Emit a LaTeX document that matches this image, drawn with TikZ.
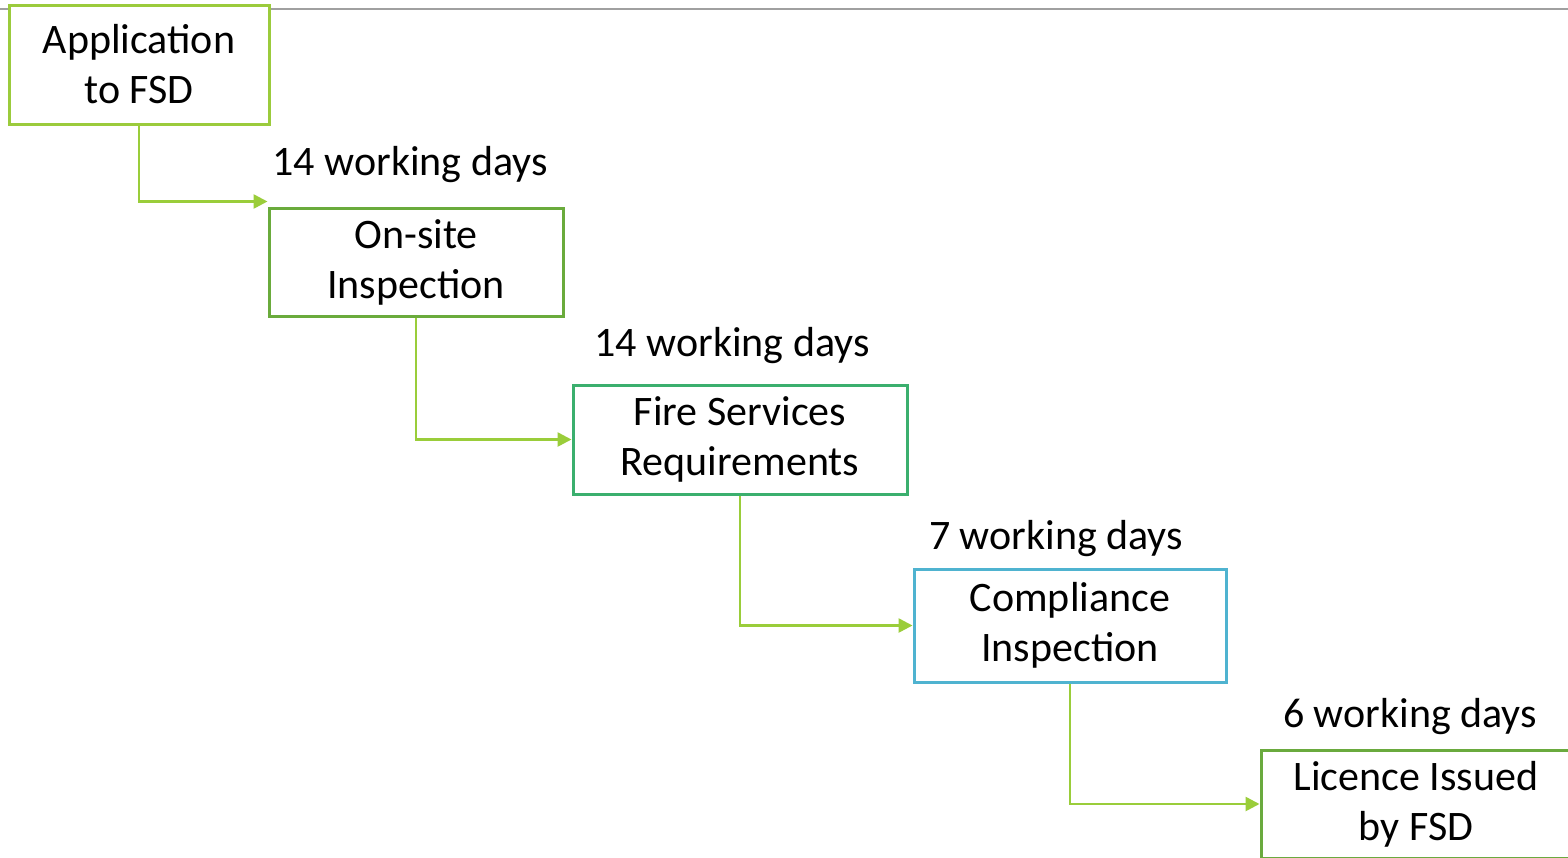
\documentclass[tikz,border=0pt]{standalone}
\usepackage{fontspec}
\setmainfont{Carlito}
\usetikzlibrary{arrows.meta}
\definecolor{cA}{HTML}{9BCB3C}
\definecolor{cB}{HTML}{6AAB3C}
\definecolor{cC}{HTML}{3BAF6E}
\definecolor{cD}{HTML}{4FB3D0}
\definecolor{cE}{HTML}{6AAA3E}
\definecolor{cL}{HTML}{9ACD3A}
\definecolor{gl}{HTML}{A0A0A0}
\begin{document}
\begin{tikzpicture}[x=1pt,y=-1pt,
  stage/.style={draw=#1,line width=3pt,fill=white,align=center,inner sep=0pt,
    font=\fontsize{42}{50}\selectfont},
  daylabel/.style={font=\fontsize{42}{50}\selectfont,inner sep=0pt},
  link/.style={draw=cL,line width=2.6pt,-{Triangle[length=14pt,width=14pt]}}]
\useasboundingbox (0,0) rectangle (1568,857);
\fill[white] (0,0) rectangle (1568,857);
\coordinate (gl1) at (0,9);
\coordinate (gl2) at (1568,9);
\draw[gl,line width=2pt] (gl1) -- (gl2);
\node[stage=cA,minimum width=260pt,minimum height=119pt] (a) at (139,64.5) {Application\\to FSD};
\node[stage=cB,minimum width=294pt,minimum height=108pt] (b) at (416,262) {On-site\\Inspection};
\node[stage=cC,minimum width=334pt,minimum height=109pt] (c) at (740,439.5) {Fire Services\\Requirements};
\node[stage=cD,minimum width=312pt,minimum height=113pt] (d) at (1070,625.5) {Compliance\\Inspection};
\node[stage=cE,minimum width=310pt,minimum height=108pt] (e) at (1416,804) {Licence Issued\\by FSD};
\node[daylabel] (l1) at (410,165) {14 working days};
\node[daylabel] (l2) at (732,346) {14 working days};
\node[daylabel] (l3) at (1056,539) {7 working days};
\node[daylabel] (l4) at (1410,717) {6 working days};
\draw[link] (a.south) |- ([yshift=5pt]b.north west);
\draw[link] (b.south) |- (c.west);
\draw[link] (c.south) |- (d.west);
\draw[link] (d.south) |- (e.west);
\end{tikzpicture}
\end{document}
